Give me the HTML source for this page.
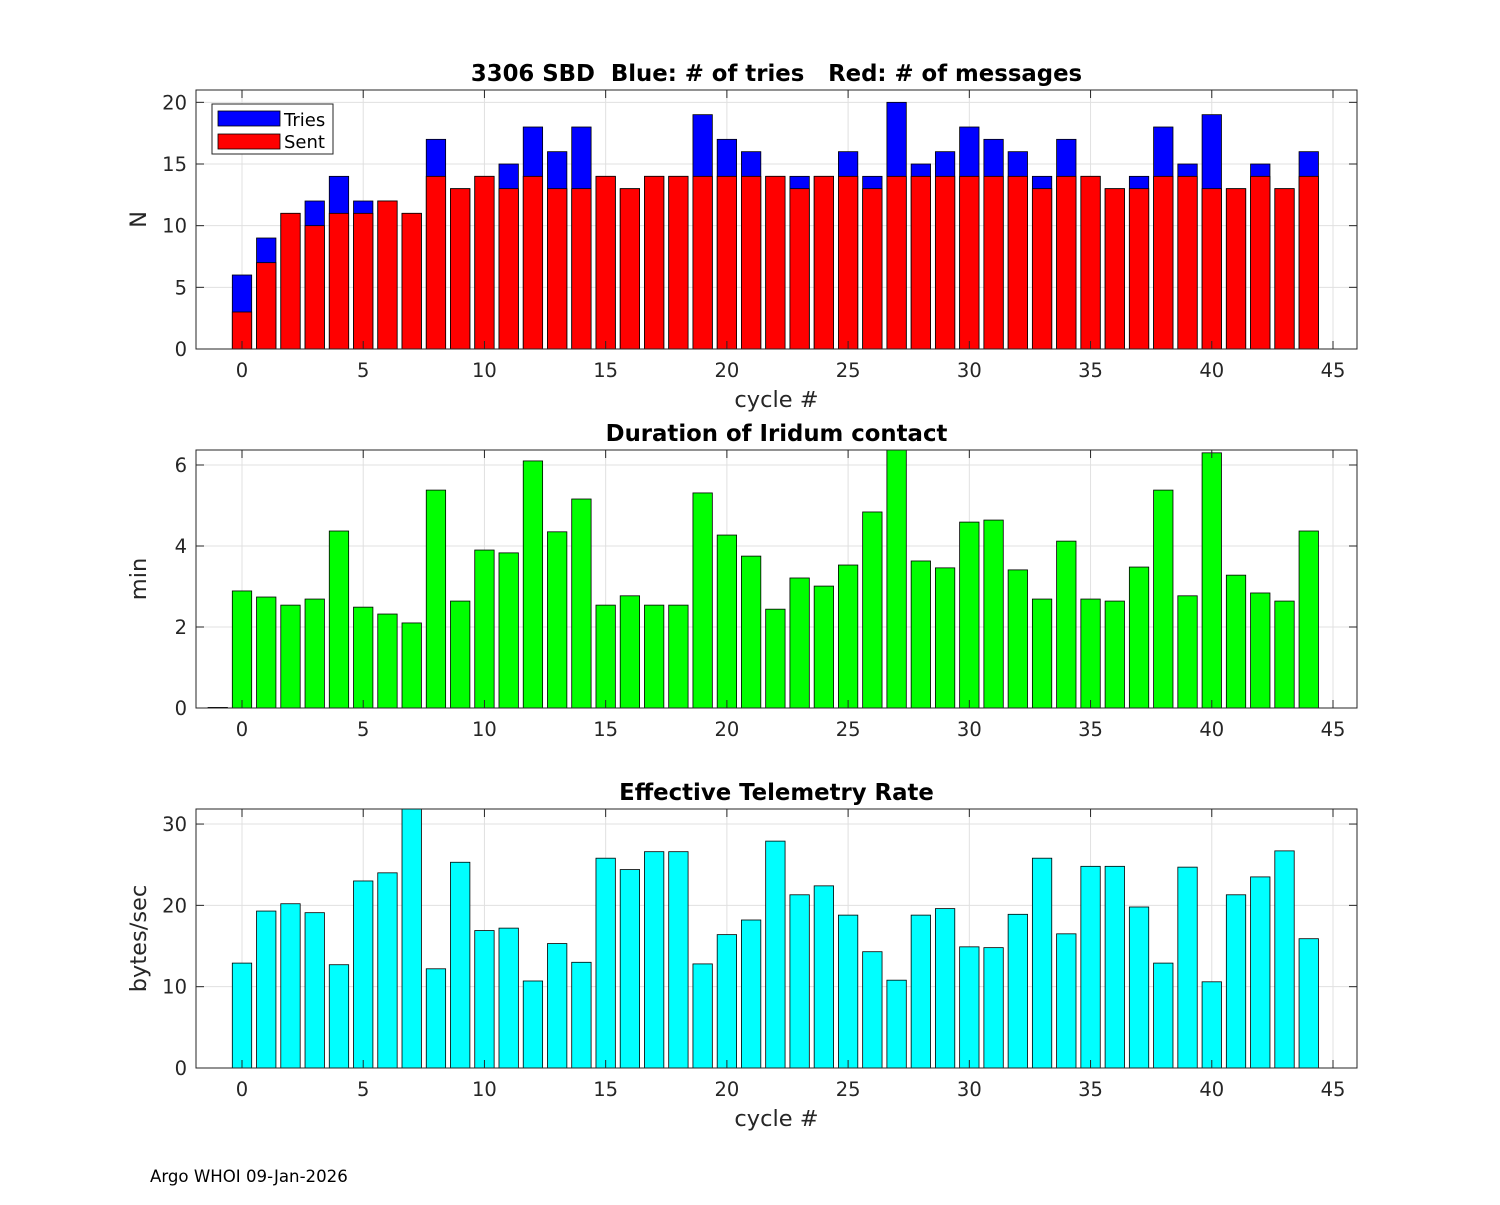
<!DOCTYPE html>
<html><head><meta charset="utf-8"><style>
body{margin:0;background:#fff;}
svg text{font-family:"DejaVu Sans","Liberation Sans",sans-serif;white-space:pre;}
</style></head><body>
<svg id="fig" width="1500" height="1200" xmlns="http://www.w3.org/2000/svg">
<rect width="1500" height="1200" fill="#fff"/>
<text x="150" y="1182" font-size="16.6" fill="#000">Argo WHOI 09-Jan-2026</text>
</svg>
<script>
const cycles=[0,1,2,3,4,5,6,7,8,9,10,11,12,13,14,15,16,17,18,19,20,21,22,23,24,25,26,27,28,29,30,31,32,33,34,35,36,37,38,39,40,41,42,43,44];
const tries=[6,9,11,12,14,12,12,11,17,13,14,15,18,16,18,14,13,14,14,19,17,16,14,14,14,16,14,20,15,16,18,17,16,14,17,14,13,14,18,15,19,13,15,13,16];
const sent=[3,7,11,10,11,11,12,11,14,13,14,13,14,13,13,14,13,14,14,14,14,14,14,13,14,14,13,14,14,14,14,14,14,13,14,14,13,13,14,14,13,13,14,13,14];
const durCycles=[-1,0,1,2,3,4,5,6,7,8,9,10,11,12,13,14,15,16,17,18,19,20,21,22,23,24,25,26,27,28,29,30,31,32,33,34,35,36,37,38,39,40,41,42,43,44];
const duration=[0,2.89,2.74,2.54,2.69,4.37,2.49,2.32,2.1,5.38,2.64,3.9,3.83,6.1,4.35,5.16,2.54,2.77,2.54,2.54,5.31,4.27,3.75,2.44,3.21,3.01,3.53,4.84,6.5,3.63,3.46,4.59,4.64,3.41,2.69,4.12,2.69,2.64,3.48,5.38,2.77,6.3,3.28,2.84,2.64,4.37];
const rate=[12.9,19.3,20.2,19.1,12.7,23,24,33,12.2,25.3,16.9,17.2,10.7,15.3,13,25.8,24.4,26.6,26.6,12.8,16.4,18.2,27.9,21.3,22.4,18.8,14.3,10.8,18.8,19.6,14.9,14.8,18.9,25.8,16.5,24.8,24.8,19.8,12.9,24.7,10.6,21.3,23.5,26.7,15.9];
const xTicks=[0,5,10,15,20,25,30,35,40,45];
const yTicks1=[0,5,10,15,20];
const yTicks2=[0,2,4,6];
const yTicks3=[0,10,20,30];

const NS="http://www.w3.org/2000/svg";
const svg=document.getElementById('fig');
function mk(tag,attrs,parent){const e=document.createElementNS(NS,tag);for(const k in attrs)e.setAttribute(k,attrs[k]);(parent||svg).appendChild(e);return e;}
const L=196,R=1357;
const xMin=-1.897,xMax=45.99;
function xs(v){return L+(v-xMin)/(xMax-xMin)*(R-L);}
const bw=0.8*(R-L)/(xMax-xMin);

function axes(name,top,bot,yMax,yTicks,title,ylabel,xlabel){
  const g=mk('g',{});
  
  
  const ys=v=>bot-v/yMax*(bot-top);
  mk('rect',{x:L,y:top,width:R-L,height:bot-top,fill:'#fff'},g);
  const grid=mk('g',{stroke:'#e0e0e0','stroke-width':1},g);
  
  
  xTicks.forEach(t=>mk('line',{x1:xs(t),x2:xs(t),y1:top,y2:bot},grid));
  yTicks.forEach(t=>mk('line',{x1:L,x2:R,y1:ys(t),y2:ys(t)},grid));
  const marks=mk('g',{},g);
  return {g,ys,marks,finish(){
    const fr=mk('g',{stroke:'#262626','stroke-width':1,fill:'none'},g);
    mk('rect',{x:L,y:top,width:R-L,height:bot-top},fr);
    xTicks.forEach(t=>{mk('line',{x1:xs(t),x2:xs(t),y1:bot,y2:bot-8},fr);mk('line',{x1:xs(t),x2:xs(t),y1:top,y2:top+8},fr);
      const tx=mk('text',{x:xs(t),y:bot+28,'font-size':19.5,'text-anchor':'middle',fill:'#262626',stroke:'none'},g);tx.textContent=t;
      });
    yTicks.forEach(t=>{mk('line',{x1:L,x2:L+8,y1:ys(t),y2:ys(t)},fr);mk('line',{x1:R,x2:R-8,y1:ys(t),y2:ys(t)},fr);
      const tx=mk('text',{x:L-9,y:ys(t)+7,'font-size':19.5,'text-anchor':'end',fill:'#262626',stroke:'none'},g);tx.textContent=t;
      });
    const tt=mk('text',{x:(L+R)/2,y:top-9,'font-size':22.8,'font-weight':'bold','text-anchor':'middle',fill:'#000'},g);tt.textContent=title;
    
    const yl=mk('text',{x:0,y:0,'font-size':22.5,'text-anchor':'middle',fill:'#262626',transform:`translate(${L-50},${(top+bot)/2}) rotate(-90)`},g);yl.textContent=ylabel;
    
    if(xlabel){const xl=mk('text',{x:(L+R)/2,y:bot+58,'font-size':22.5,'text-anchor':'middle',fill:'#262626'},g);xl.textContent=xlabel;
      }
  }};
}
function bar(parent,x,v,ys,top,fill,name){
  const y=Math.min(Math.max(ys(v),top),ys(0)-0.6);
  const r=mk('rect',{x:xs(x)-bw/2,y:y,width:bw,height:ys(0)-y,fill:fill,stroke:'#000','stroke-width':0.8},parent);
  
  
}
// Plot 1
const a1=axes('tries-chart',90,349,21,yTicks1,'3306 SBD  Blue: # of tries   Red: # of messages','N','cycle #');
cycles.forEach((c,i)=>bar(a1.marks,c,tries[i],a1.ys,90,'#0000ff','bar-tries'));
cycles.forEach((c,i)=>bar(a1.marks,c,sent[i],a1.ys,90,'#ff0000','bar-sent'));
a1.finish();
const lg=mk('g',{});


mk('rect',{x:212,y:104,width:121,height:50,fill:'#fff',stroke:'#262626','stroke-width':1},lg);
mk('rect',{x:218,y:111,width:62,height:15,fill:'#0000ff',stroke:'#000','stroke-width':0.8},lg);
mk('rect',{x:218,y:134,width:62,height:15,fill:'#ff0000',stroke:'#000','stroke-width':0.8},lg);
let t1=mk('text',{x:284,y:126,'font-size':18,fill:'#000'},lg);t1.textContent='Tries';

let t2=mk('text',{x:284,y:148,'font-size':18,fill:'#000'},lg);t2.textContent='Sent';

// Plot 2
const a2=axes('duration-chart',450,708,6.37,yTicks2,'Duration of Iridum contact','min',null);
durCycles.forEach((c,i)=>bar(a2.marks,c,duration[i],a2.ys,450,'#00ff00','bar-duration'));
a2.finish();
// Plot 3
const a3=axes('rate-chart',809,1068,31.85,yTicks3,'Effective Telemetry Rate','bytes/sec','cycle #');
cycles.forEach((c,i)=>bar(a3.marks,c,rate[i],a3.ys,809,'#00ffff','bar-rate'));
a3.finish();
</script>
</body></html>
